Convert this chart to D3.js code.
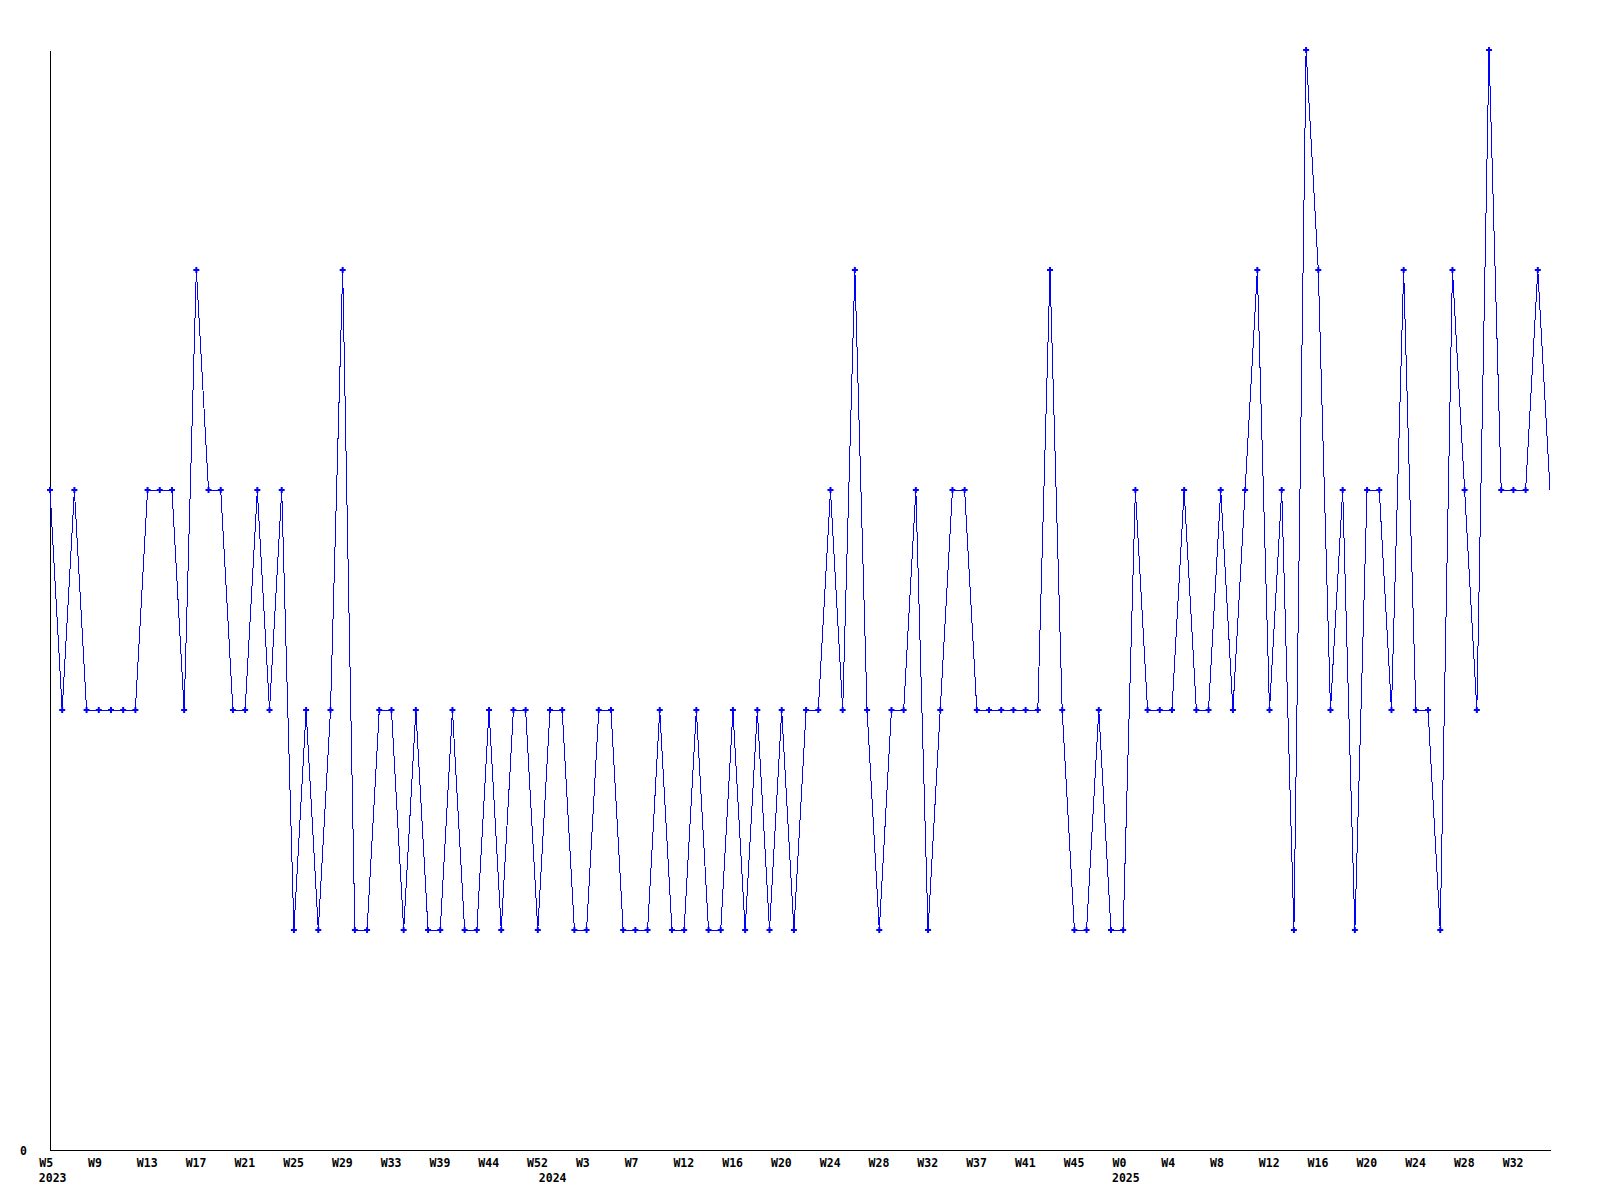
<!DOCTYPE html>
<html>
<head>
<meta charset="utf-8">
<script src="https://cdn.jsdelivr.net/npm/d3@7"></script>
<style>
  html, body { margin: 0; padding: 0; background: #fff; }
  svg { display: block; }
  text { font-family: "DejaVu Sans Mono", "Liberation Mono", monospace; font-weight: bold; font-size: 11.5px; fill: #000; }
</style>
</head>
<body>
<svg id="chart" width="1600" height="1200"></svg>
<script>
// Weekly values (one per point)
const values = [
  3,2,3,2,2,2,2,2,3,3,3,2,4,3,3,2,2,3,2,3,1,2,
  1,2,4,1,1,2,2,1,2,1,1,2,1,1,2,1,2,2,1,2,2,
  1,1,2,2,1,1,1,2,1,1,2,1,1,2,1,2,1,2,1,2,2,3,
  2,4,2,1,2,2,3,1,2,3,3,2,2,2,2,2,2,4,2,1,1,
  2,1,1,3,2,2,2,3,2,2,3,2,3,4,2,3,1,5,4,2,3,
  1,3,3,2,4,2,2,1,4,3,2,5,3,3,3,4,3
];
// Week tick labels and the point index each one sits at
const weekLabels = ["W5","W9","W13","W17","W21","W25","W29","W33","W39","W44","W52",
  "W3","W7","W12","W16","W20","W24","W28","W32","W37","W41","W45",
  "W0","W4","W8","W12","W16","W20","W24","W28","W32"];
const weekTickIndex = [-1,3,7,11,15,19,23,27,31,35,39,43,47,51,55,59,63,67,71,75,79,83,87,91,95,99,103,107,111,115,119];
// Year labels and their point index
const yearLabels = ["2023","2024","2025"];
const yearIndex = [-1,40,87];
const yTicks = [0];

const svg = d3.select("#chart");
const mLeft = 50, mRight = 1550, mTop = 50, mBottom = 1150;

const x = d3.scaleLinear().domain([0, values.length - 1]).range([mLeft, mRight]);
const y = d3.scaleLinear().domain([0, 5]).range([mBottom, mTop]);

// Y axis
const yAxis = svg.append("g")
  .attr("transform", `translate(${mLeft},0)`)
  .call(d3.axisLeft(y).tickValues(yTicks).tickFormat(d3.format("d"))
    .tickSize(0).tickSizeOuter(0).tickPadding(0));
yAxis.select(".domain").attr("stroke", "#000").attr("shape-rendering", "crispEdges");
yAxis.selectAll(".tick text")
  .attr("x", -23).attr("text-anchor", "end").attr("dy", "0.36em")
  .style("font-family", "DejaVu Sans Mono").style("font-size", "11.5px").style("font-weight", "bold");

// X axis with week labels
const xAxis = svg.append("g")
  .attr("transform", `translate(0,${mBottom})`)
  .call(d3.axisBottom(x).tickValues(weekTickIndex)
    .tickFormat((d, i) => weekLabels[i]).tickSize(0).tickSizeOuter(0));
xAxis.select(".domain").attr("stroke", "#000").attr("shape-rendering", "crispEdges");
xAxis.selectAll(".tick text")
  .attr("text-anchor", "start").attr("x", 1).attr("y", 16.5).attr("dy", null)
  .style("font-family", "DejaVu Sans Mono").style("font-size", "11.5px").style("font-weight", "bold");

// Year labels
svg.append("g").selectAll("text").data(yearLabels).join("text")
  .attr("x", (d, i) => x(yearIndex[i]) + 1)
  .attr("y", mBottom + 31.5)
  .attr("text-anchor", "start")
  .text(d => d);

// Line
const line = d3.line().x((d, i) => x(i)).y(d => y(d));
svg.append("path")
  .datum(values)
  .attr("d", line)
  .attr("fill", "none")
  .attr("stroke", "#0000ff")
  .attr("stroke-width", 1)
  .attr("shape-rendering", "crispEdges");

// Markers (all but the final point)
const sym = d3.symbol().type(d3.symbolCross).size(20);
svg.append("g").selectAll("path")
  .data(values.slice(0, values.length - 1))
  .join("path")
  .attr("transform", (d, i) => `translate(${x(i)},${y(d)})`)
  .attr("d", sym)
  .attr("fill", "#0000ff");
</script>
</body>
</html>
